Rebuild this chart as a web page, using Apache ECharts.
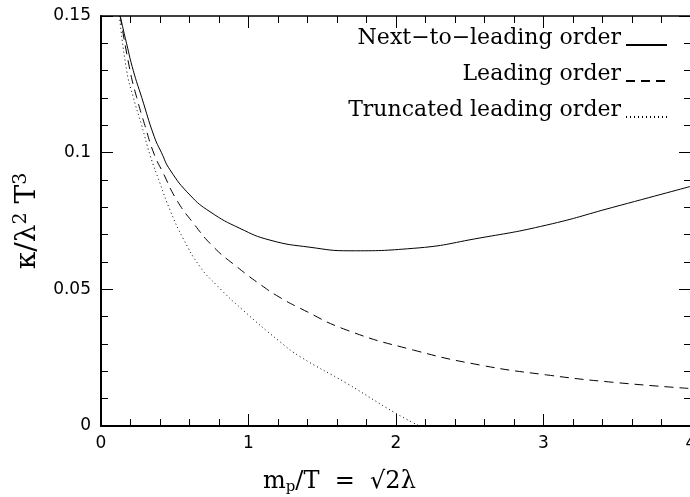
<!DOCTYPE html>
<html>
<head>
<meta charset="utf-8">
<script src="https://cdn.jsdelivr.net/npm/echarts@6/dist/echarts.min.js"></script>
<style>
    html, body {margin: 0; padding: 0; background: #fff;}
    #chart {width: 690px; height: 497px;}
</style>
</head>
<body>
<div id="chart"></div>
<script>
// series names (legend order)
const seriesNames = ['Next−to−leading order', 'Leading order', 'Truncated leading order'];

// next-to-leading order (solid)
const nloX = [0.13, 0.174, 0.219, 0.276, 0.36, 0.41, 0.468, 0.603, 0.739, 0.942, 1.146, 1.417, 1.688, 2.117, 2.57, 3.02, 3.47, 4.00];
const nloY = [0.150, 0.1398, 0.130, 0.1202, 0.106, 0.100, 0.0937, 0.0845, 0.0784, 0.0723, 0.068, 0.0654, 0.0641, 0.065, 0.0688, 0.0735, 0.0800, 0.0877];

// leading order (dashed)
const loX = [0.13, 0.197, 0.242, 0.298, 0.36, 0.422, 0.513, 0.626, 0.761, 0.92, 1.10, 1.214, 1.349, 1.666, 2.117, 2.57, 3.02, 3.47, 4.00];
const loY = [0.150, 0.130, 0.1202, 0.1099, 0.0995, 0.0925, 0.0827, 0.0742, 0.0656, 0.0583, 0.051, 0.047, 0.0431, 0.0351, 0.0278, 0.0223, 0.0187, 0.016, 0.0137];

// truncated leading order (dotted)
const tloX = [0.125, 0.174, 0.219, 0.276, 0.332, 0.40, 0.468, 0.558, 0.671, 0.784, 0.954, 1.214, 1.349, 1.666, 2.00, 2.16];
const tloY = [0.150, 0.130, 0.1202, 0.1099, 0.0992, 0.0888, 0.079, 0.0685, 0.0583, 0.0515, 0.0428, 0.0308, 0.0254, 0.0156, 0.0046, 0.0];

const zip = (xs, ys) => xs.map((x, i) => [x, ys[i]]);

let myChart = echarts.init(document.getElementById('chart'));

const tickLabelStyle = {fontFamily: 'DejaVu Sans', fontSize: 17, color: '#000'};
const makeX = (pos, showLabel, lineWidth) => ({
    type: 'value', position: pos, min: 0, max: 4, interval: 1,
    splitLine: {show: false},
    axisLine: {show: true, onZero: false, lineStyle: {color: '#000', width: lineWidth}},
    axisTick: {show: true, inside: true, length: 12, lineStyle: {color: '#000', width: 1}},
    minorTick: {show: true, splitNumber: 5, length: 7, lineStyle: {color: '#000', width: 1}},
    axisLabel: Object.assign({show: showLabel, margin: 9}, tickLabelStyle),
});
const makeY = (pos, showLabel, lineWidth) => ({
    type: 'value', position: pos, min: 0, max: 0.15, interval: 0.05,
    splitLine: {show: false},
    axisLine: {show: true, onZero: false, lineStyle: {color: '#000', width: lineWidth}},
    axisTick: {show: true, inside: true, length: 12, lineStyle: {color: '#000', width: 1}},
    minorTick: {show: true, splitNumber: 5, length: 7, lineStyle: {color: '#000', width: 1}},
    axisLabel: Object.assign({show: showLabel, margin: 10}, tickLabelStyle),
});

const yMain = makeY('left', true, 2);
yMain.name = '{a|κ/λ}{s|2}{a| T}{s|3}';
yMain.nameLocation = 'middle';
yMain.nameRotate = 90;
yMain.nameGap = 58;
yMain.nameTextStyle = {
    rich: {
        a: {fontFamily: 'DejaVu Serif', fontSize: 28, color: '#000'},
        s: {fontFamily: 'DejaVu Serif', fontSize: 19, color: '#000', padding: [0, 0, 12, 0]},
    },
};

myChart.setOption({
    animation: false,
    backgroundColor: '#fff',
    grid: {left: 101, right: -1, top: 16, bottom: 71, outerBoundsMode: 'none', containLabel: false},
    legend: {
        orient: 'vertical',
        align: 'right',
        right: 22,
        top: 27,
        padding: 0,
        itemWidth: 41,
        itemHeight: 14,
        itemGap: 0,
        itemStyle: {opacity: 0},
        data: seriesNames,
        formatter: name => '{t|' + name + '}',
        textStyle: {
            rich: {
                t: {fontFamily: 'DejaVu Serif', fontSize: 22, lineHeight: 21, color: '#000', padding: [0, 0, 14, 0]},
            },
        },
    },
    xAxis: [makeX('bottom', true, 2), makeX('top', false, 1.5)],
    yAxis: [yMain, makeY('right', false, 1.5)],
    graphic: [{
        type: 'text',
        left: 263,
        top: 470,
        style: {
            text: '{a|m}{s|p}{a|/T  =  √2λ}',
            rich: {
                a: {fontFamily: 'DejaVu Serif', fontSize: 24, fill: '#000'},
                s: {fontFamily: 'DejaVu Serif', fontSize: 15, fill: '#000', padding: [10, 0, 0, 0]},
            },
        },
    }],
    series: [
        {
            name: seriesNames[0], type: 'line', smooth: true, symbol: 'none',
            lineStyle: {color: '#000', width: 1, type: 'solid'},
            itemStyle: {color: '#000'},
            data: zip(nloX, nloY),
        },
        {
            name: seriesNames[1], type: 'line', smooth: true, symbol: 'none',
            lineStyle: {color: '#000', width: 1, type: [9, 6]},
            itemStyle: {color: '#000'},
            data: zip(loX, loY),
        },
        {
            name: seriesNames[2], type: 'line', smooth: true, symbol: 'none',
            lineStyle: {color: '#000', width: 1, type: [1, 3]},
            itemStyle: {color: '#000'},
            data: zip(tloX, tloY),
        },
    ],
});
</script>
</body>
</html>
